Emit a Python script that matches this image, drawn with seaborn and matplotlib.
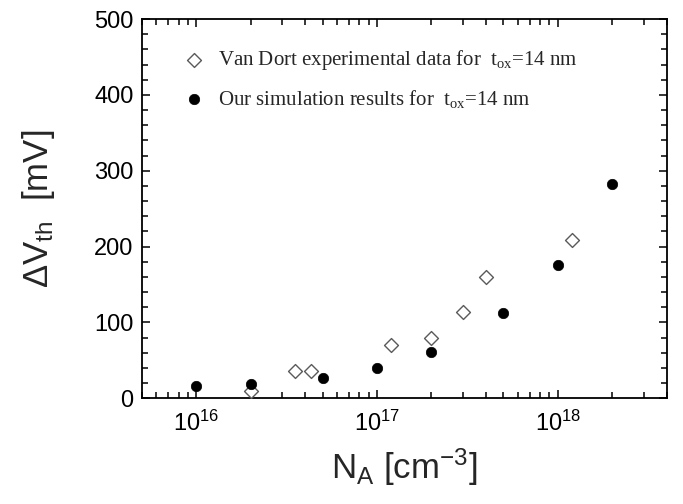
import numpy as np
import matplotlib
matplotlib.use("Agg")
import matplotlib.pyplot as plt
import seaborn as sns
from matplotlib.ticker import FixedLocator, LogLocator, MultipleLocator, FuncFormatter, NullFormatter

# Van Dort experimental data (t_ox = 14 nm)
vandort_na = [2e16, 3.5e16, 4.3e16, 1.2e17, 2e17, 3e17, 4e17, 1.2e18]
vandort_dvth = [9, 36, 36, 70, 80, 114, 160, 208]

# our simulation results (t_ox = 14 nm)
sim_na = [1e16, 2e16, 5e16, 1e17, 2e17, 5e17, 1e18, 2e18]
sim_dvth = [16, 19, 27, 40, 61, 112, 176, 282]

x_major = [1e16, 1e17, 1e18]
y_major = [0, 100, 200, 300, 400, 500]

legend_labels = [
    "Van Dort experimental data for  t$_{ox}$=14 nm",
    "Our simulation results for  t$_{ox}$=14 nm",
]

sns.set_style("ticks")
plt.rcParams["font.family"] = ["Liberation Sans", "DejaVu Sans"]
plt.rcParams["mathtext.default"] = "regular"

fig, ax = plt.subplots(figsize=(6.83, 5.04), dpi=100)
fig.subplots_adjust(left=0.2075, right=0.976, bottom=0.21, top=0.962)

sns.scatterplot(x=vandort_na, y=vandort_dvth, marker="D", s=50, color="white",
                edgecolor="#5a5a5a", linewidth=1.0, label=legend_labels[0], ax=ax, zorder=3)
sns.scatterplot(x=sim_na, y=sim_dvth, marker="o", s=56, color="black",
                edgecolor="black", linewidth=0.5, label=legend_labels[1], ax=ax, zorder=4)

ax.set_xscale("log")
ax.set_xlim(5e15, 4e18)
ax.set_ylim(0, 500)

ax.xaxis.set_major_locator(FixedLocator(x_major))
ax.xaxis.set_major_formatter(FuncFormatter(lambda v, _: "$10^{%d}$" % round(np.log10(v))))
ax.xaxis.set_minor_locator(LogLocator(base=10, subs=np.arange(2, 10)))
ax.xaxis.set_minor_formatter(NullFormatter())
ax.yaxis.set_major_locator(FixedLocator(y_major))
ax.yaxis.set_minor_locator(MultipleLocator(20))

ax.tick_params(which="both", direction="in", top=True, right=True, width=1.1, colors="black")
ax.tick_params(which="major", length=5.5)
ax.tick_params(which="minor", length=4.5)
ax.tick_params(axis="y", which="major", labelsize=17, pad=6)
ax.tick_params(axis="x", which="major", labelsize=17, pad=9)

for sp in ax.spines.values():
    sp.set_visible(True)
    sp.set_linewidth(1.3)
    sp.set_color("black")

ax.set_xlabel("N$_A$ [cm$^{-3}$]", fontsize=25, labelpad=8)
ax.set_ylabel("ΔV$_{th}$  [mV]", fontsize=25, labelpad=27)

ax.legend(loc="upper left", bbox_to_anchor=(0.07, 0.945), frameon=False,
          prop={"family": ["Liberation Serif", "DejaVu Serif"], "size": 15},
          handlelength=0.7, handletextpad=0.8, labelspacing=0.75, borderaxespad=0)

fig.savefig("out.png", dpi=100)
